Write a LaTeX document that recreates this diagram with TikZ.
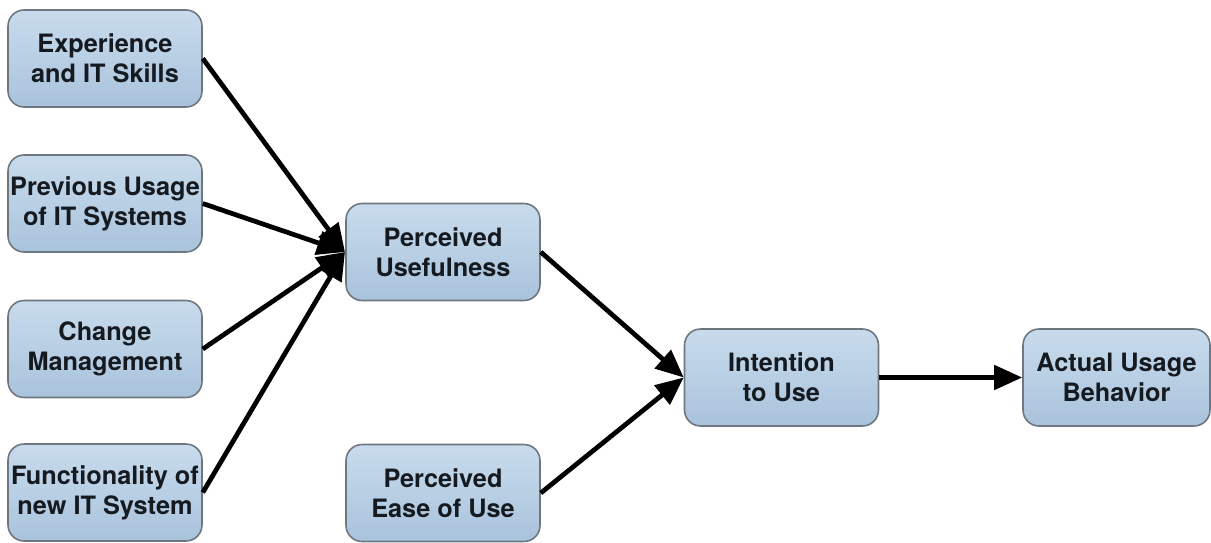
\documentclass[tikz,border=0pt]{standalone}
\usepackage{fontspec}
\setmainfont{TeX Gyre Heros}
\usetikzlibrary{arrows.meta}
\definecolor{boxtop}{HTML}{C8DBEC}
\definecolor{boxbot}{HTML}{A9C3DC}
\definecolor{boxline}{HTML}{6E7780}
\definecolor{txt}{HTML}{151A20}
\tikzset{
  box/.style={draw=boxline, line width=0.9pt, rounded corners=0.32cm,
    top color=boxtop, bottom color=boxbot,
    minimum width=3.88cm, minimum height=1.94cm, align=center, inner sep=0pt,
    text=txt, font=\fontsize{14.4}{17.2}\selectfont\bfseries},
  conn/.style={line width=2.7pt, -{Triangle[length=0.56cm,width=0.48cm]}}
}
\begin{document}
\begin{tikzpicture}[x=0.02cm,y=-0.02cm]
\useasboundingbox (0,0) rectangle (1211,542);
\node[box] (exp) at (105,58.5) {Experience\\and IT Skills};
\node[box] (prev) at (105,203.5) {Previous Usage\\of IT Systems};
\node[box] (chg) at (105,349) {Change\\Management};
\node[box] (fun) at (105,492.5) {Functionality of\\new IT System};
\node[box] (pu) at (443,252) {Perceived\\Usefulness};
\node[box] (peu) at (443,493) {Perceived\\Ease of Use};
\node[box] (itu) at (781.5,377.5) {Intention\\to Use};
\node[box, minimum width=3.74cm] (aub) at (1116.5,377.5) {Actual Usage\\Behavior};
\coordinate (puin) at (345,252);
\draw[conn] (exp.east) -- (puin);
\draw[conn] (prev.east) -- (puin);
\draw[conn] (chg.east) -- (puin);
\draw[conn] (fun.east) -- (puin);
\draw[conn] (pu.east) -- (itu.west);
\draw[conn] (peu.east) -- (itu.west);
\draw[conn] (itu.east) -- (aub.west);
\end{tikzpicture}
\end{document}
